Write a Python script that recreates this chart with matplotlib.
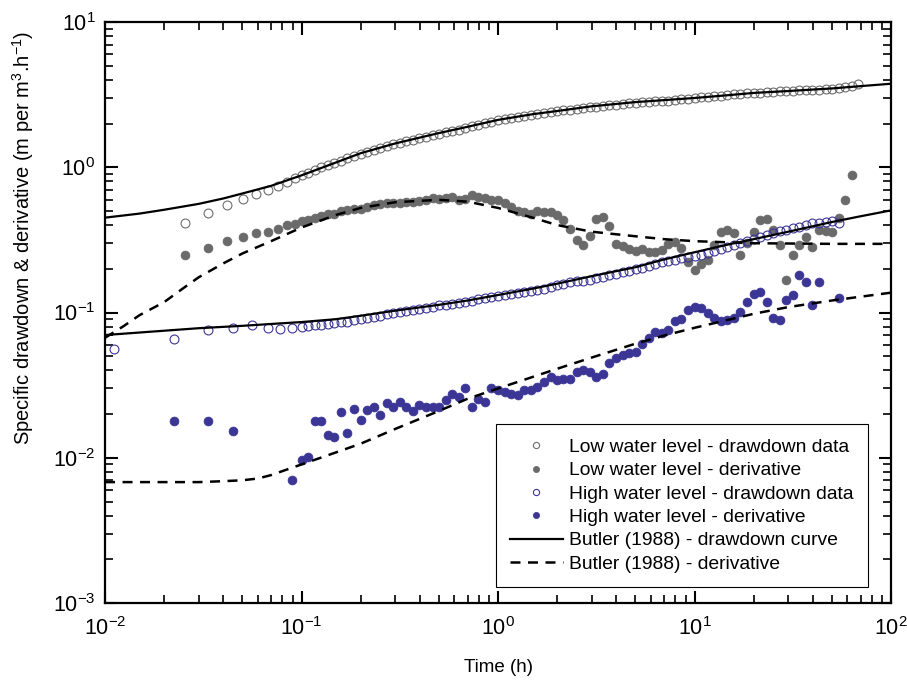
import numpy as np
import matplotlib
matplotlib.use("Agg")
import matplotlib.pyplot as plt

plt.rcParams["font.family"] = ["Liberation Sans", "DejaVu Sans"]
plt.rcParams["mathtext.fontset"] = "custom"
plt.rcParams["mathtext.rm"] = "Liberation Sans"
plt.rcParams["mathtext.it"] = "Liberation Sans:italic"
plt.rcParams["mathtext.bf"] = "Liberation Sans:bold"

nan = np.nan

# Early readings (short, linear time steps) for each test
t_low_early = [0.0255, 0.0334, 0.0417, 0.0503, 0.0586, 0.0674, 0.0758, 0.0842, 0.0926]
s_low_early = [0.414, 0.485, 0.55, 0.607, 0.656, 0.70, 0.74, 0.79, 0.84]
d_low_early = [0.249, 0.278, 0.311, 0.331, 0.353, 0.36, 0.376, 0.401, 0.41]

t_high_early = [0.0111, 0.0224, 0.0334, 0.0447, 0.0559, 0.0674, 0.0775, 0.0893]
s_high_early = [0.0562, 0.0658, 0.0753, 0.0784, 0.082, 0.078, 0.077, 0.078]
d_high_early = [nan, 0.018, 0.0178, 0.0153, nan, nan, nan, 0.00705]

# Later readings, log-spaced times shared by both tests (h)
t_late = [0.1, 0.108, 0.117, 0.126, 0.136, 0.147, 0.158, 0.171, 0.185, 0.2,
          0.215, 0.233, 0.251, 0.271, 0.293, 0.316, 0.341, 0.369, 0.398, 0.43,
          0.464, 0.501, 0.541, 0.584, 0.631, 0.681, 0.736, 0.794, 0.858, 0.926,
          1.0, 1.08, 1.17, 1.26, 1.36, 1.47, 1.58, 1.71, 1.85, 2.0,
          2.15, 2.33, 2.51, 2.71, 2.93, 3.16, 3.41, 3.69, 3.98, 4.3,
          4.64, 5.01, 5.41, 5.84, 6.31, 6.81, 7.36, 7.94, 8.58, 9.26,
          10.0, 10.8, 11.7, 12.6, 13.6, 14.7, 15.8, 17.1, 18.5, 20.0,
          21.5, 23.3, 25.1, 27.1, 29.3, 31.6, 34.1, 36.9, 39.8, 43.0,
          46.4, 50.1, 54.1, 58.4, 63.1, 68.1]

# Low water level: specific drawdown and derivative
s_low_late = [0.88, 0.92, 0.96, 1.00, 1.04, 1.07, 1.11, 1.15, 1.19, 1.24,
              1.28, 1.32, 1.36, 1.40, 1.44, 1.47, 1.51, 1.55, 1.58, 1.62,
              1.66, 1.70, 1.74, 1.78, 1.82, 1.86, 1.91, 1.96, 2.01, 2.06,
              2.11, 2.15, 2.19, 2.23, 2.27, 2.30, 2.34, 2.37, 2.40, 2.43,
              2.46, 2.49, 2.52, 2.55, 2.58, 2.61, 2.64, 2.67, 2.70, 2.72,
              2.75, 2.78, 2.80, 2.82, 2.84, 2.86, 2.88, 2.90, 2.93, 2.96,
              3.00, 3.03, 3.06, 3.09, 3.12, 3.15, 3.18, 3.20, 3.23, 3.25,
              3.27, 3.29, 3.31, 3.33, 3.34, 3.36, 3.38, 3.40, 3.41, 3.43,
              3.45, 3.48, 3.51, 3.55, 3.60, 3.72]
d_low_late = [0.427, 0.434, 0.445, 0.46, 0.475, 0.48, 0.50, 0.508, 0.515, 0.52,
              0.53, 0.55, 0.557, 0.567, 0.567, 0.567, 0.575, 0.575, 0.585, 0.596,
              0.615, 0.605, 0.615, 0.625, 0.596, 0.605, 0.645, 0.625, 0.615, 0.596,
              0.596, 0.567, 0.53, 0.50, 0.49, 0.48, 0.50, 0.49, 0.49, 0.47,
              0.434, 0.376, 0.316, 0.292, 0.336, 0.44, 0.455, 0.395, 0.297, 0.287,
              0.275, 0.264, 0.275, 0.26, 0.26, 0.27, 0.297, 0.306, 0.278, 0.223,
              0.196, 0.216, 0.23, 0.292, 0.358, 0.37, 0.353, 0.249, 0.30, 0.358,
              0.434, 0.44, 0.37, 0.292, 0.168, 0.249, 0.292, 0.33, 0.283, 0.37,
              0.365, 0.358, 0.45, 0.6, 0.88, nan]

# High water level: specific drawdown and derivative
s_high_late = [0.0795, 0.081, 0.0822, 0.0822, 0.0835, 0.0849, 0.0862, 0.0862, 0.0889, 0.0903,
               0.0917, 0.093, 0.0945, 0.0975, 0.099, 0.1008, 0.1024, 0.1042, 0.106, 0.108,
               0.110, 0.112, 0.113, 0.115, 0.117, 0.119, 0.121, 0.124, 0.126, 0.128,
               0.130, 0.132, 0.134, 0.136, 0.138, 0.141, 0.143, 0.145, 0.150, 0.155,
               0.158, 0.161, 0.164, 0.166, 0.168, 0.173, 0.176, 0.181, 0.184, 0.190,
               0.193, 0.199, 0.202, 0.209, 0.216, 0.223, 0.227, 0.230, 0.238, 0.242,
               0.245, 0.249, 0.257, 0.264, 0.273, 0.281, 0.292, 0.30, 0.31, 0.32,
               0.33, 0.342, 0.353, 0.365, 0.37, 0.38, 0.39, 0.40, 0.415, 0.415,
               0.42, 0.43, 0.415, nan, nan, nan]
d_high_late = [0.0097, 0.0101, 0.0178, 0.018, 0.0144, 0.0139, 0.0205, 0.0148, 0.0216, 0.0182,
               0.0214, 0.0225, 0.0197, 0.024, 0.0225, 0.0244, 0.0225, 0.0211, 0.0232, 0.0222,
               0.0222, 0.0222, 0.0248, 0.0276, 0.0263, 0.0302, 0.0222, 0.0254, 0.0244, 0.0302,
               0.0293, 0.0285, 0.0276, 0.0271, 0.0293, 0.0293, 0.0305, 0.0331, 0.0358, 0.0344,
               0.0351, 0.0351, 0.0388, 0.0405, 0.0388, 0.0358, 0.038, 0.0446, 0.049, 0.0514,
               0.053, 0.0539, 0.0611, 0.0671, 0.0737, 0.0726, 0.076, 0.0874, 0.09, 0.1042,
               0.1091, 0.1075, 0.0995, 0.0919, 0.0877, 0.089, 0.092, 0.101, 0.118, 0.134,
               0.138, 0.118, 0.092, 0.089, 0.122, 0.132, 0.181, 0.163, 0.113, 0.163,
               nan, nan, 0.126, nan, nan, nan]

# Butler (1988) type curves
t_fit_low_s = [0.01, 0.015, 0.02, 0.03, 0.04, 0.05, 0.07, 0.1, 0.15, 0.2, 0.3, 0.5, 0.7, 1,
               1.5, 2, 3, 5, 7, 10, 15, 20, 30, 50, 70, 100]
fit_low_s = [0.45, 0.48, 0.51, 0.56, 0.61, 0.66, 0.745, 0.88, 1.08, 1.25, 1.46, 1.72, 1.90, 2.12,
             2.32, 2.44, 2.63, 2.81, 2.90, 3.00, 3.14, 3.25, 3.35, 3.49, 3.62, 3.76]
t_fit_low_d = [0.01, 0.0125, 0.015, 0.02, 0.025, 0.03, 0.04, 0.05, 0.07, 0.1, 0.15, 0.2, 0.3,
               0.5, 0.7, 1, 1.5, 2, 3, 5, 7, 10, 20, 50, 100]
fit_low_d = [0.067, 0.081, 0.096, 0.118, 0.147, 0.175, 0.218, 0.255, 0.31, 0.385, 0.47, 0.525, 0.575,
             0.597, 0.58, 0.525, 0.45, 0.40, 0.36, 0.335, 0.32, 0.31, 0.30, 0.297, 0.297]
t_fit_high_s = [0.01, 0.03, 0.05, 0.1, 0.15, 0.2, 0.3, 0.5, 0.7, 1, 1.5, 2, 3, 5, 7, 10,
                15, 20, 30, 50, 70, 100]
fit_high_s = [0.07, 0.078, 0.081, 0.086, 0.09, 0.095, 0.103, 0.113, 0.121, 0.132, 0.146, 0.158, 0.178, 0.205, 0.232, 0.26,
              0.295, 0.32, 0.36, 0.42, 0.46, 0.505]
t_fit_high_d = [0.01, 0.03, 0.04, 0.05, 0.06, 0.07, 0.08, 0.1, 0.15, 0.2, 0.3, 0.5, 0.7, 1,
                2, 3, 5, 7, 10, 20, 30, 50, 100]
fit_high_d = [0.0068, 0.0068, 0.0069, 0.0070, 0.0072, 0.0076, 0.0081, 0.009, 0.0109, 0.0125, 0.0158, 0.021, 0.0255, 0.030,
              0.041, 0.049, 0.061, 0.0694, 0.0785, 0.098, 0.109, 0.121, 0.137]

labels = ["Low water level - drawdown data",
          "Low water level - derivative",
          "High water level - drawdown data",
          "High water level - derivative",
          "Butler (1988) - drawdown curve",
          "Butler (1988) - derivative"]

grey_open = "#6e6e6e"
grey_fill = "#6a6a6a"
blue = "#3b3596"

t_low = t_low_early + t_late
t_high = t_high_early + t_late
s_low = s_low_early + s_low_late
d_low = d_low_early + d_low_late
s_high = s_high_early + s_high_late
d_high = d_high_early + d_high_late

fig = plt.figure(figsize=(9.07, 6.8), dpi=100)
ax = fig.add_axes([0.1158, 0.1132, 0.8666, 0.8544])

ms = 6.4
h1, = ax.plot(t_low, s_low, "o", ms=ms, mfc="none", mec=grey_open, mew=0.8, zorder=3)
h2, = ax.plot(t_low, d_low, "o", ms=ms, mfc=grey_fill, mec=grey_fill, mew=0.5, zorder=3)
h3, = ax.plot(t_high, s_high, "o", ms=ms, mfc="none", mec=blue, mew=0.8, zorder=3)
h4, = ax.plot(t_high, d_high, "o", ms=ms, mfc=blue, mec=blue, mew=0.5, zorder=3)

h5, = ax.plot(t_fit_low_s, fit_low_s, "-", color="black", lw=1.6, zorder=4)
ax.plot(t_fit_high_s, fit_high_s, "-", color="black", lw=1.6, zorder=4)
h6, = ax.plot(t_fit_low_d, fit_low_d, "--", color="black", lw=1.8, dashes=(4, 3), zorder=4)
ax.plot(t_fit_high_d, fit_high_d, "--", color="black", lw=1.8, dashes=(4, 3), zorder=4)

ax.set_xscale("log")
ax.set_yscale("log")
ax.set_xlim(1e-2, 1e2)
ax.set_ylim(1e-3, 1e1)

ax.tick_params(which="both", direction="in", top=True, right=True, labelsize=15.5, pad=7)
ax.tick_params(axis="x", which="both", pad=10)
ax.tick_params(which="major", length=9, width=1.5)
ax.tick_params(which="minor", length=5.5, width=1.2)
for sp in ax.spines.values():
    sp.set_linewidth(1.6)

ax.set_xlabel("Time (h)", fontsize=13.5, labelpad=14)
ax.set_ylabel(r"Specific drawdown & derivative (m per m$^{3}$.h$^{-1}$)", fontsize=14.5)
ax.yaxis.set_label_coords(-0.088, 0.628)

leg = ax.legend([h1, h2, h3, h4, h5, h6], labels, loc="lower right",
                bbox_to_anchor=(0.971, 0.0275), fontsize=13.9, frameon=True,
                fancybox=False, edgecolor="black", framealpha=1, borderpad=0.75,
                labelspacing=0.3, handlelength=2.7, handletextpad=0.35,
                markerscale=0.7, borderaxespad=0)
leg.get_frame().set_linewidth(0.8)

fig.savefig("out.png", dpi=100)
